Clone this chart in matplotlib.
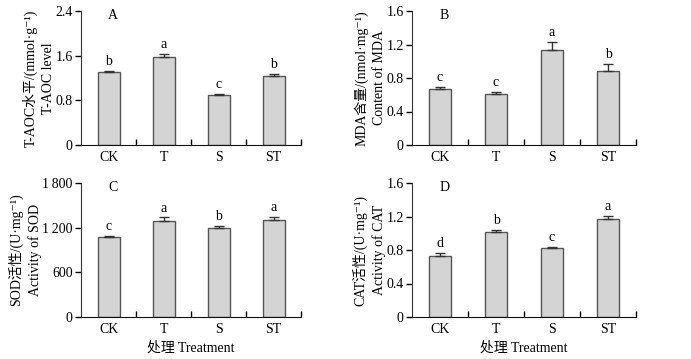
import matplotlib
matplotlib.use('Agg')
import matplotlib.pyplot as plt
import numpy as np

plt.rcParams['font.family'] = ['Liberation Serif', 'Noto Sans CJK SC', 'DejaVu Sans']
plt.rcParams['font.size'] = 10

# data
groups = ['CK', 'T', 'S', 'ST']

taoc = [1.31, 1.58, 0.90, 1.23]
taoc_err = [0.02, 0.05, 0.01, 0.04]
taoc_sig = ['b', 'a', 'c', 'b']

mda = [0.67, 0.605, 1.14, 0.88]
mda_err = [0.02, 0.025, 0.09, 0.09]
mda_sig = ['c', 'c', 'a', 'b']

sod = [1072, 1292, 1193, 1301]
sod_err = [15, 45, 30, 45]
sod_sig = ['c', 'a', 'b', 'a']

cat = [0.725, 1.013, 0.828, 1.176]
cat_err = [0.04, 0.025, 0.01, 0.03]
cat_sig = ['d', 'b', 'c', 'a']

panels = [
    ('A', taoc, taoc_err, taoc_sig, [0, 0.8, 1.6, 2.4], ['0', '0.8', '1.6', '2.4'],
     'T-AOC水平/(mmol·g\u207b\u00b9)\nT-AOC level'),
    ('B', mda, mda_err, mda_sig, [0, 0.4, 0.8, 1.2, 1.6], ['0', '0.4', '0.8', '1.2', '1.6'],
     'MDA含量/(nmol·mg\u207b\u00b9)\nContent of MDA'),
    ('C', sod, sod_err, sod_sig, [0, 600, 1200, 1800], ['0', '600', '1\u2009200', '1\u2009800'],
     'SOD活性/(U·mg\u207b\u00b9)\nActivity of SOD'),
    ('D', cat, cat_err, cat_sig, [0, 0.4, 0.8, 1.2, 1.6], ['0', '0.4', '0.8', '1.2', '1.6'],
     'CAT活性/(U·mg\u207b\u00b9)\nActivity of CAT'),
]

W, H = 691, 359
boxes = [(81, 11, 220, 134), (412, 11, 224, 134),
         (81, 183, 220, 134), (412, 183, 224, 134)]

fig = plt.figure(figsize=(W / 100, H / 100), dpi=100)

for (name, vals, errs, sig, yt, ytl, ylab), (l, t, w, h) in zip(panels, boxes):
    ax = fig.add_axes([l / W, 1 - (t + h) / H, w / W, h / H])
    x = np.arange(len(groups))
    ax.bar(x, vals, width=0.4, color='#d4d4d4', edgecolor='#555555', linewidth=1.0, zorder=2)
    ax.errorbar(x, vals, yerr=[np.zeros(len(vals)), errs], fmt='none', ecolor='#333333',
                elinewidth=1.0, capsize=3.5, capthick=1.0, zorder=3)
    for xi, v, e, s in zip(x, vals, errs, sig):
        ax.annotate(s, (xi, v + e), xytext=(0, 2), textcoords='offset points',
                    ha='center', va='bottom', fontsize=10)
    ax.set_xlim(-0.5, 3.5)
    ax.set_ylim(yt[0], yt[-1])
    ax.set_yticks(yt)
    ax.set_yticklabels(ytl)
    ax.set_xticks(x + 0.5)
    ax.set_xticklabels([])
    ax.set_xticks(x, minor=True)
    ax.set_xticklabels(groups, minor=True)
    ax.tick_params(axis='x', which='major', direction='in', length=4, width=1)
    ax.tick_params(axis='x', which='minor', length=0, pad=4)
    ax.tick_params(axis='y', direction='out', length=4, width=1, pad=2)
    ax.spines['top'].set_visible(False)
    ax.spines['right'].set_visible(False)
    ax.spines['left'].set_color('#333333')
    ax.spines['bottom'].set_color('#111111')
    ax.set_ylabel(ylab, multialignment='center', linespacing=1.45, labelpad=0)
    ax.text(0.145, 0.965, name, transform=ax.transAxes, ha='center', va='center', fontsize=10)
    if name in ('C', 'D'):
        ax.set_xlabel('处理 Treatment', labelpad=4)

fig.savefig('out.png', dpi=100)
